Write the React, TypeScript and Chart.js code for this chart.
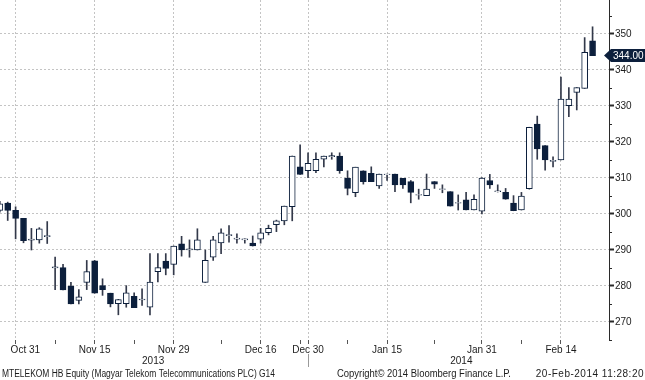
import React, { useEffect, useRef } from "react";
import { Chart, registerables } from "chart.js";
Chart.register(...registerables);

// Trading days (x position = index in this array)
const dates = [
  "2013-10-29","2013-10-30","2013-10-31","2013-11-04","2013-11-05","2013-11-06","2013-11-07","2013-11-08",
  "2013-11-11","2013-11-12","2013-11-13","2013-11-14","2013-11-15","2013-11-18","2013-11-19","2013-11-20",
  "2013-11-21","2013-11-22","2013-11-25","2013-11-26","2013-11-27","2013-11-28","2013-11-29","2013-12-02",
  "2013-12-03","2013-12-04","2013-12-05","2013-12-06","2013-12-09","2013-12-10","2013-12-11","2013-12-12",
  "2013-12-13","2013-12-16","2013-12-17","2013-12-18","2013-12-19","2013-12-20","2013-12-23","2013-12-30",
  "2014-01-02","2014-01-03","2014-01-06","2014-01-07","2014-01-08","2014-01-09","2014-01-10","2014-01-13",
  "2014-01-14","2014-01-15","2014-01-16","2014-01-17","2014-01-20","2014-01-21","2014-01-22","2014-01-23",
  "2014-01-24","2014-01-27","2014-01-28","2014-01-29","2014-01-30","2014-01-31","2014-02-03","2014-02-04",
  "2014-02-05","2014-02-06","2014-02-07","2014-02-10","2014-02-11","2014-02-12","2014-02-13","2014-02-14",
  "2014-02-17","2014-02-18","2014-02-19","2014-02-20",
];
const openP = [
  301, 303, 301, 298.8, 292.7, 292.8, 293.7, 285, 285.1, 280, 276, 281, 287, 280.1, 278, 275.1,
  275.1, 277.1, 276.1, 274.1, 284, 286.9, 286, 291.7, 290, 290, 281, 288, 292, 294, 293, 292.8,
  291.9, 293, 294.8, 297, 298.1, 302, 313.1, 312, 312, 315.2, 315.9, 316.1, 309.9, 305.9, 312, 311.3,
  307.8, 310.9, 311.1, 309.9, 309, 305.2, 305.1, 309, 306.8, 306.2, 303, 303.9, 301.1, 300.8, 309.3, 306.2,
  306, 303, 301.1, 307, 325, 319, 314.6, 315, 330.1, 333.8, 334.9, 348.1,
];
const highP = [
  303.5, 303.3, 302, 298.8, 296, 296.2, 297.9, 288, 286, 281, 279, 287.1, 287.1, 282, 278, 276.3,
  280.1, 278.1, 279.2, 289, 289, 289, 291.1, 293.8, 292.8, 295.9, 290, 293.8, 295.9, 296.8, 294.5, 293.1,
  293.9, 296, 296.9, 298.3, 302.2, 316.1, 319.2, 317, 317, 316.1, 317, 317, 312, 313, 312, 313.1,
  311.1, 311.1, 311.1, 309.9, 309.3, 306.9, 311.1, 309, 308.1, 306.2, 305.3, 306, 305.3, 310.1, 311, 308.1,
  307.1, 305.1, 306, 324.1, 327.2, 319, 315.9, 338, 335.1, 335.1, 349, 352,
];
const lowP = [
  300.5, 298.2, 293.1, 292, 290, 291.9, 291.8, 279, 278.9, 275, 275, 279, 278, 277.4, 274.2, 272,
  274.1, 274, 274.6, 272, 281.1, 283.1, 283.1, 288.3, 288, 290, 281, 287.1, 289, 292.2, 291.9, 291.9,
  291.1, 291.9, 294.2, 295.1, 297, 298.1, 311, 310.1, 311.5, 313.1, 315.2, 311.3, 305.3, 304.8, 308.3, 309,
  307.1, 309.3, 306.2, 307.1, 303.1, 304.1, 305.1, 307.1, 305.9, 302.2, 301.1, 301.1, 301.1, 300, 307.1, 306.1,
  304.1, 300.9, 301.1, 306.9, 315.2, 312.2, 313.1, 315, 327, 328.9, 334.9, 344,
];
const closeP = [
  302.8, 301, 298.8, 292.6, 293, 295.9, 294, 285.3, 278.9, 275, 277, 284, 278, 279, 275, 276.2,
  278.1, 274, 276.4, 281.1, 285.1, 284.9, 291.1, 290, 290.3, 292.8, 287.1, 292.8, 294.8, 294.3, 293.3, 293.1,
  291.1, 294.8, 296, 298.1, 302.2, 316.1, 311, 314.1, 315.2, 316.1, 316.2, 312, 307.1, 313, 309, 309,
  311.1, 311.1, 308.1, 308.1, 306, 305.4, 306.9, 308.3, 307, 302.2, 303.2, 301.1, 304.1, 310, 308.1, 306.4,
  304.1, 300.9, 305, 324.1, 318.1, 315, 314.9, 331.9, 331.9, 335.1, 344.9, 344,
];

const labeledDates = ["2013-10-31","2013-11-15","2013-11-29","2013-12-16","2013-12-30","2014-01-15","2014-01-31","2014-02-14"];
const tickLabels = ["       Oct 31","Nov 15","Nov 29","Dec 16","Dec 30","Jan 15","Jan 31","Feb 14"];
const minorTickDates = ["2013-11-08","2013-11-22","2013-12-09","2013-12-23","2014-01-08","2014-01-23","2014-02-07"];
const yearLabels = ["2013","2014"];
const yearCenterDates = ["2013-11-26","2014-01-28"];
const yearSplitDate = "2013-12-30";
const lastPrice = 344.0;
const footerLeft = "MTELEKOM HB Equity (Magyar Telekom Telecommunications PLC) G14";
const footerMid = "Copyright\u00A9 2014 Bloomberg Finance L.P.";
const footerRight = "20-Feb-2014 11:28:20";

const NAVY = "#0c1f3c";
const WICK = "#33394a";
const TEXT = "#1c1c1c";
const GRID = "#c4c4c4";
const FONT = "'Liberation Sans', Arial, sans-serif";

export default function App() {
  const ref = useRef<HTMLCanvasElement | null>(null);
  useEffect(() => {
    const canvas = ref.current;
    if (!canvas) return;
    const idx = (d: string) => dates.indexOf(d);
    const labelMap = new Map<number, string>();
    labeledDates.forEach((d, i) => labelMap.set(idx(d), tickLabels[i]));
    const tickVals = [...labeledDates, ...minorTickDates].map(idx).sort((a, b) => a - b);

    const bodies = dates.map((_, i) => ({ x: i, y: [openP[i], closeP[i]] }));
    const wicks = dates.map((_, i) => ({ x: i, y: [lowP[i], highP[i]] }));
    const isUp = (i: number) => closeP[i] >= openP[i];

    const extras = {
      id: "extras",
      afterDraw(chart: any) {
        const ctx = chart.ctx;
        const xs = chart.scales.x;
        const ys = chart.scales.y;
        const area = chart.chartArea;
        ctx.save();
        // minor ticks on price axis
        ctx.strokeStyle = "#2a2a2a";
        ctx.lineWidth = 1;
        for (let v = 265; v <= 355; v += 10) {
          const y = Math.round(ys.getPixelForValue(v)) + 0.5;
          ctx.beginPath();
          ctx.moveTo(area.right, y);
          ctx.lineTo(area.right + 3, y);
          ctx.stroke();
        }
        // year row
        ctx.fillStyle = TEXT;
        ctx.font = `10px ${FONT}`;
        ctx.textAlign = "center";
        ctx.textBaseline = "middle";
        yearLabels.forEach((t, i) => {
          ctx.fillText(t, xs.getPixelForValue(idx(yearCenterDates[i]) + 0.4), 361);
        });
        const sx = Math.round(xs.getPixelForValue(idx(yearSplitDate))) + 0.5;
        ctx.strokeStyle = "#9a9a9a";
        ctx.beginPath();
        ctx.moveTo(sx, 354);
        ctx.lineTo(sx, 367);
        ctx.stroke();
        // footer
        ctx.textAlign = "left";
        ctx.fillText(footerLeft, 2, 374, 273);
        ctx.fillText(footerMid, 337, 374, 174);
        ctx.textAlign = "right";
        try { (ctx as any).letterSpacing = "0.5px"; } catch (e) {}
        ctx.fillText(footerRight, 644, 374);
        try { (ctx as any).letterSpacing = "0px"; } catch (e) {}
        // last price badge
        const yp = ys.getPixelForValue(lastPrice);
        ctx.fillStyle = NAVY;
        ctx.beginPath();
        ctx.moveTo(604, yp);
        ctx.lineTo(611, yp - 6.5);
        ctx.lineTo(645, yp - 6.5);
        ctx.lineTo(645, yp + 6.5);
        ctx.lineTo(611, yp + 6.5);
        ctx.closePath();
        ctx.fill();
        ctx.fillStyle = "#ffffff";
        ctx.textAlign = "left";
        ctx.fillText(lastPrice.toFixed(2), 613, yp + 0.5);
        ctx.restore();
      },
    };

    const chart = new Chart(canvas, {
      type: "bar",
      data: {
        datasets: [
          {
            data: bodies as any,
            grouped: false,
            barThickness: 6,
            borderWidth: 1,
            borderSkipped: false,
            borderColor: NAVY,
            backgroundColor: (c: any) => (isUp(c.dataIndex) ? "#ffffff" : NAVY),
            order: 0,
          },
          {
            data: wicks as any,
            grouped: false,
            barThickness: 1,
            borderWidth: 0,
            backgroundColor: WICK,
            order: 1,
          },
        ],
      },
      options: {
        animation: false,
        responsive: false,
        events: [],
        layout: { padding: 0 },
        plugins: { legend: { display: false }, tooltip: { enabled: false } },
        scales: {
          x: {
            type: "linear",
            offset: false,
            min: 0.025,
            max: 77.08,
            afterFit: (s: any) => { s.height = 40; s.paddingLeft = 0; s.paddingRight = 0; },
            afterBuildTicks: (s: any) => { s.ticks = tickVals.map((v) => ({ value: v })); },
            border: { display: false, dash: [2, 2] },
            grid: {
              offset: false,
              color: (c: any) => (labelMap.has(c.tick?.value) ? GRID : "rgba(0,0,0,0)"),
              tickColor: "#555",
              tickLength: 4,
              drawTicks: true,
            },
            ticks: {
              autoSkip: false,
              maxRotation: 0,
              padding: 0,
              color: TEXT,
              font: { family: FONT, size: 10 },
              callback: (v: any) => labelMap.get(v) ?? "",
            },
          },
          y: {
            position: "right",
            min: 265,
            max: 359.44,
            afterFit: (s: any) => { s.width = 36; s.paddingTop = 0; s.paddingBottom = 0; },
            border: { display: true, color: "#2a2a2a", width: 1, dash: [2, 2] },
            grid: {
              color: GRID,
              tickColor: "#2a2a2a",
              tickLength: 5,
              tickWidth: 2,
            },
            ticks: {
              stepSize: 10,
              includeBounds: false,
              padding: 1,
              color: TEXT,
              font: { family: FONT, size: 10 },
            },
          },
        },
      },
      plugins: [extras],
    });
    return () => chart.destroy();
  }, []);

  return (
    <div style={{ position: "fixed", left: 0, top: 0, width: 645, height: 380, background: "#fff" }}>
      <canvas ref={ref} width={645} height={380} style={{ display: "block" }} />
    </div>
  );
}
